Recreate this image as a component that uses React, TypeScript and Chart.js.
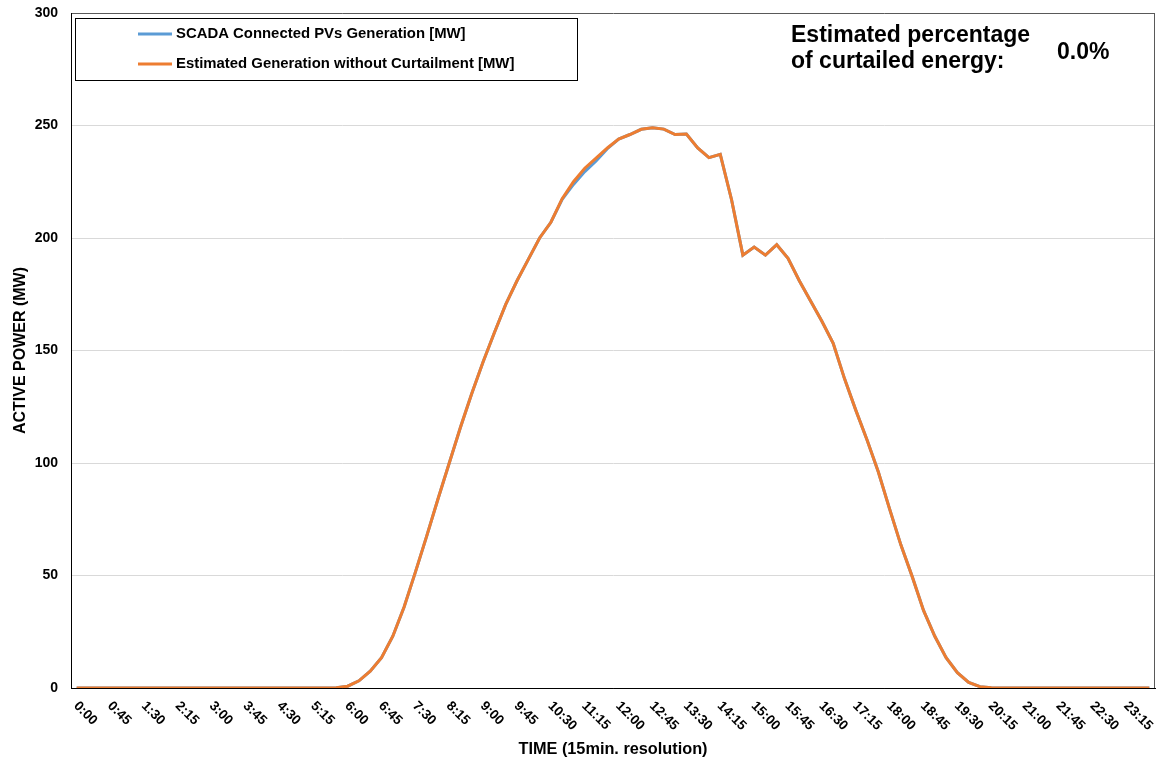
import React, { useEffect, useRef } from 'react';
import { Chart, registerables } from 'chart.js';

Chart.register(...registerables);

const timeCategories = [
  '0:00', '0:15', '0:30', '0:45', '1:00', '1:15', '1:30', '1:45',
  '2:00', '2:15', '2:30', '2:45', '3:00', '3:15', '3:30', '3:45',
  '4:00', '4:15', '4:30', '4:45', '5:00', '5:15', '5:30', '5:45',
  '6:00', '6:15', '6:30', '6:45', '7:00', '7:15', '7:30', '7:45',
  '8:00', '8:15', '8:30', '8:45', '9:00', '9:15', '9:30', '9:45',
  '10:00', '10:15', '10:30', '10:45', '11:00', '11:15', '11:30', '11:45',
  '12:00', '12:15', '12:30', '12:45', '13:00', '13:15', '13:30', '13:45',
  '14:00', '14:15', '14:30', '14:45', '15:00', '15:15', '15:30', '15:45',
  '16:00', '16:15', '16:30', '16:45', '17:00', '17:15', '17:30', '17:45',
  '18:00', '18:15', '18:30', '18:45', '19:00', '19:15', '19:30', '19:45',
  '20:00', '20:15', '20:30', '20:45', '21:00', '21:15', '21:30', '21:45',
  '22:00', '22:15', '22:30', '22:45', '23:00', '23:15', '23:30', '23:45',
];

// x tick labels shown (every 45 minutes)
const xTickLabels = [
  '0:00', '0:45', '1:30', '2:15', '3:00', '3:45', '4:30', '5:15',
  '6:00', '6:45', '7:30', '8:15', '9:00', '9:45', '10:30', '11:15',
  '12:00', '12:45', '13:30', '14:15', '15:00', '15:45', '16:30', '17:15',
  '18:00', '18:45', '19:30', '20:15', '21:00', '21:45', '22:30', '23:15',
];

const scadaGeneration = [
  0, 0, 0, 0, 0, 0, 0, 0,
  0, 0, 0, 0, 0, 0, 0, 0,
  0, 0, 0, 0, 0, 0, 0, 0.1,
  0.8, 3.2, 7.5, 13.5, 23, 36, 51.5, 67.5,
  84, 100, 116, 131, 145, 158, 170.5, 181,
  190.5, 200, 207, 217.2, 223.8, 229.5, 234.3, 239.7,
  244, 246, 248.3, 249, 248.4, 246, 246.2, 240,
  235.7, 237.2, 217, 192.4, 196, 192.4, 197, 191,
  181, 172, 163, 153.2, 137.5, 123.5, 110.2, 96,
  79.5, 63.5, 49.5, 34.5, 23, 13.5, 6.8, 2.5,
  0.6, 0.1, 0, 0, 0, 0, 0, 0,
  0, 0, 0, 0, 0, 0, 0, 0,
];

const estimatedGeneration = [
  0, 0, 0, 0, 0, 0, 0, 0,
  0, 0, 0, 0, 0, 0, 0, 0,
  0, 0, 0, 0, 0, 0, 0, 0.1,
  0.8, 3.2, 7.5, 13.5, 23, 36, 51.5, 67.5,
  84, 100, 116, 131, 145, 158, 170.5, 181,
  190.5, 200, 207, 217.5, 225, 231, 235.5, 240,
  244, 246, 248.3, 249, 248.4, 246, 246.2, 240,
  235.7, 237.2, 217, 192.4, 196, 192.4, 197, 191,
  181, 172, 163, 153.2, 137.5, 123.5, 110.2, 96,
  79.5, 63.5, 49.5, 34.5, 23, 13.5, 6.8, 2.5,
  0.6, 0.1, 0, 0, 0, 0, 0, 0,
  0, 0, 0, 0, 0, 0, 0, 0,
];

const seriesLabels = ['SCADA Connected PVs Generation [MW]', 'Estimated Generation without Curtailment [MW]'];
const seriesColors = ['#5b9bd5', '#ed7d31'];
const yAxisTitle = 'ACTIVE POWER (MW)';
const xAxisTitle = 'TIME (15min. resolution)';
const curtailmentCaption = ['Estimated percentage', 'of curtailed energy:'];
const curtailmentValue = '0.0%';

const FONT = '"Liberation Sans", Arial, Helvetica, sans-serif';

const overlayPlugin = {
  id: 'overlay',
  afterDraw(chart: any) {
    const ctx = chart.ctx as CanvasRenderingContext2D;
    const area = chart.chartArea;
    const xs = chart.scales.x;
    ctx.save();

    // right border of the plot area
    ctx.strokeStyle = '#595959';
    ctx.lineWidth = 1;
    ctx.beginPath();
    ctx.moveTo(Math.round(area.right) - 0.5, area.top);
    ctx.lineTo(Math.round(area.right) - 0.5, area.bottom);
    ctx.stroke();

    // rotated x tick labels
    ctx.fillStyle = '#000';
    ctx.font = `bold 13.5px ${FONT}`;
    ctx.textAlign = 'left';
    ctx.textBaseline = 'top';
    xTickLabels.forEach((lab) => {
      const idx = timeCategories.indexOf(lab);
      const x = xs.getPixelForValue(idx);
      ctx.save();
      ctx.translate(x + 4, area.bottom + 11);
      ctx.rotate(Math.PI / 4);
      ctx.fillText(lab, 0, 0);
      ctx.restore();
    });

    // axis titles
    ctx.font = `bold 16.3px ${FONT}`;
    ctx.textAlign = 'center';
    ctx.textBaseline = 'middle';
    ctx.fillText(xAxisTitle, (area.left + area.right) / 2, 750);
    ctx.font = `bold 16px ${FONT}`;
    ctx.save();
    ctx.translate(21, (area.top + area.bottom) / 2);
    ctx.rotate(-Math.PI / 2);
    ctx.fillText(yAxisTitle, 0, 0);
    ctx.restore();

    // legend box
    const lx = area.left + 4;
    const ly = area.top + 5;
    ctx.strokeStyle = '#000';
    ctx.lineWidth = 1;
    ctx.strokeRect(Math.round(lx) + 0.5, Math.round(ly) + 0.5, 502, 62);
    ctx.font = `bold 14.9px ${FONT}`;
    ctx.textAlign = 'left';
    ctx.textBaseline = 'middle';
    chart.data.datasets.forEach((ds: any, i: number) => {
      const yy = ly + 16 + i * 30;
      ctx.strokeStyle = ds.borderColor;
      ctx.lineWidth = 3;
      ctx.beginPath();
      ctx.moveTo(lx + 63, yy);
      ctx.lineTo(lx + 97, yy);
      ctx.stroke();
      ctx.fillStyle = '#000';
      ctx.fillText(ds.label, lx + 101, yy);
    });

    // curtailment annotation
    ctx.font = `bold 23px ${FONT}`;
    ctx.textBaseline = 'alphabetic';
    ctx.fillText(curtailmentCaption[0], 791, 42);
    ctx.fillText(curtailmentCaption[1], 791, 68);
    ctx.fillText(curtailmentValue, 1057, 59);

    ctx.restore();
  },
};

export default function App() {
  const canvasRef = useRef<HTMLCanvasElement | null>(null);

  useEffect(() => {
    document.body.style.margin = '0';
    const canvas = canvasRef.current;
    if (!canvas) return;
    const chart = new Chart(canvas, {
      type: 'line',
      data: {
        labels: timeCategories,
        datasets: [
          {
            label: seriesLabels[0],
            data: scadaGeneration,
            borderColor: seriesColors[0],
            backgroundColor: seriesColors[0],
            borderWidth: 3,
            pointRadius: 0,
            tension: 0,
            order: 2,
          },
          {
            label: seriesLabels[1],
            data: estimatedGeneration,
            borderColor: seriesColors[1],
            backgroundColor: seriesColors[1],
            borderWidth: 3,
            pointRadius: 0,
            tension: 0,
            order: 1,
          },
        ],
      },
      options: {
        animation: false,
        responsive: false,
        devicePixelRatio: 1,
        layout: { padding: { top: 13, right: 2, left: 0, bottom: 0 } },
        plugins: {
          legend: { display: false },
          tooltip: { enabled: false },
          title: { display: false },
        },
        scales: {
          x: {
            type: 'category',
            offset: true,
            grid: { display: false, drawTicks: false },
            border: { display: true, color: '#000', width: 1 },
            ticks: { display: false },
            afterFit: (s: any) => { s.height = 73; },
          },
          y: {
            min: 0,
            max: 300,
            ticks: {
              stepSize: 50,
              color: '#000',
              padding: 0,
              font: { family: FONT, size: 14, weight: 'bold' },
            },
            grid: {
              drawTicks: true,
              tickLength: 13,
              tickColor: 'rgba(0,0,0,0)',
              color: (c: any) => (c.tick && c.tick.value === 300 ? '#595959' : c.tick && c.tick.value === 0 ? '#000' : '#d9d9d9'),
              lineWidth: 1,
            },
            border: { display: true, color: '#000', width: 1 },
            afterFit: (s: any) => { s.width = 71; },
          },
        },
      },
      plugins: [overlayPlugin],
    });
    return () => chart.destroy();
  }, []);

  return (
    <div style={{ width: 1157, height: 761 }}>
      <canvas ref={canvasRef} width={1157} height={761} style={{ display: 'block', width: 1157, height: 761 }} />
    </div>
  );
}
